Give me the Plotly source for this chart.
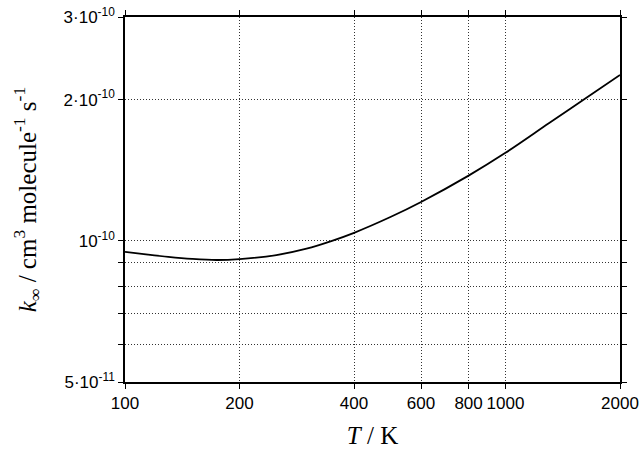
import plotly.graph_objects as go

T = [100, 115, 130, 150, 174, 200, 250, 300, 350, 400, 500, 600, 800, 1000, 1300, 1607, 2000]
k_inf = [9.47e-11, 9.34e-11, 9.24e-11, 9.15e-11, 9.10e-11, 9.14e-11, 9.32e-11, 9.62e-11, 1.0e-10,
         1.04e-10, 1.125e-10, 1.21e-10, 1.377e-10, 1.54e-10, 1.78e-10, 2.0e-10, 2.258e-10]

x_ticks = [100, 200, 400, 600, 800, 1000, 2000]
x_labels = ["100", "200", "400", "600", "800", "1000", "2000"]
y_ticks = [5e-11, 6e-11, 7e-11, 8e-11, 9e-11, 1e-10, 2e-10, 3e-10]
y_labels = ["5·10<sup>-11</sup>", "", "", "", "", "10<sup>-10</sup>", "2·10<sup>-10</sup>", "3·10<sup>-10</sup>"]

fig = go.Figure()
fig.add_trace(go.Scatter(x=T, y=k_inf, mode="lines",
                         line=dict(color="black", width=1.8, shape="spline", smoothing=1.0),
                         showlegend=False))

tickfont = dict(family="Liberation Sans, Arial, sans-serif", size=17, color="black")
serif = "Liberation Serif, Times New Roman, serif"
grid = dict(showgrid=True, gridcolor="#333", griddash="1px,2px", gridwidth=1)
axis_common = dict(showline=True, linecolor="black", linewidth=1.6, mirror="ticks",
                   ticks="outside", ticklen=5, tickcolor="black", tickwidth=1.3,
                   tickfont=tickfont, zeroline=False, automargin=False, **grid)

fig.update_layout(
    width=639, height=449,
    margin=dict(l=125, r=19, t=17, b=67),
    paper_bgcolor="white", plot_bgcolor="white",
    xaxis=dict(type="log", range=[2, 3.30103], tickvals=x_ticks, ticktext=x_labels,
               title=dict(text="<i>T</i> / K", font=dict(family=serif, size=25, color="black"),
                          standoff=24),
               **axis_common),
    yaxis=dict(type="log", range=[-10.30103, -9.52288], tickvals=y_ticks, ticktext=y_labels,
               title=dict(text="<i>k</i><sub>∞</sub> / cm<sup>3</sup> molecule<sup>-1</sup> s<sup>-1</sup>",
                          font=dict(family=serif, size=25, color="black"),
                          standoff=20),
               **axis_common),
)
fig.write_html("out.html")
